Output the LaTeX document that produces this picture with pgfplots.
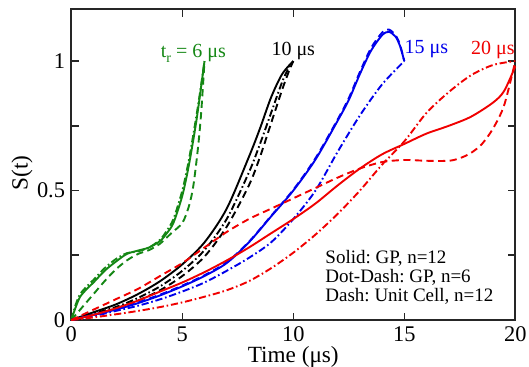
\documentclass[border=0pt]{standalone}
\usepackage{pgfplots}
\pgfplotsset{compat=1.18}
\usepackage{fontspec}
\setmainfont{Liberation Serif}
\frenchspacing

\definecolor{cgreen}{RGB}{20,135,20}
\definecolor{cblack}{RGB}{0,0,0}
\definecolor{cblue}{RGB}{0,0,235}
\definecolor{cred}{RGB}{240,0,0}

\tikzset{
  solidc/.style={line width=0.95pt},
  dashc/.style={line width=0.95pt, dash pattern=on 3.6pt off 2.2pt},
  dotdashc/.style={line width=0.95pt, dash pattern=on 3.6pt off 1.4pt on 0.8pt off 1.4pt},
}

\begin{document}
\begin{tikzpicture}
\begin{axis}[
  scale only axis,
  width=222pt, height=155.35pt,
  xmin=0, xmax=20, ymin=0, ymax=1.2,
  xtick={0,5,10,15,20},
  ytick={0,0.5,1},
  yticklabels={0,0.5,1},
  minor ytick={0.25,0.75},
  xtick pos=both, ytick pos=both,
  tick align=inside,
  major tick length=3.6pt,
  minor tick length=3.6pt,
  axis line style={black!85, line width=0.9pt},
  every tick/.style={black!85, line width=0.8pt},
  tick label style={font=\fontsize{11.2}{12}\selectfont},
  /pgf/number format/assume math mode=true,
  xticklabel style={yshift=0pt},
  yticklabel style={xshift=0.4pt},
  label style={font=\fontsize{11.6}{13}\selectfont},
  xlabel={Time (μs)},
  ylabel={S(t)},
  xlabel style={at={(axis description cs:0.5,-0.137)}, anchor=base},
  ylabel style={at={(axis description cs:-0.111,0.473)}, anchor=center},
  clip=false,
]

% ---- t_r = 6 us ----
\addplot[cgreen, solidc, smooth] coordinates {
(0,0) (0.2,0.05) (0.4,0.09) (0.7,0.12) (1,0.145) (1.5,0.19) (2,0.225)
(2.5,0.255) (3,0.268) (3.5,0.28) (4,0.305) (4.3,0.335) (4.6,0.375)
(5,0.48) (5.3,0.6) (5.6,0.75) (5.8,0.87) (6,1.0)};
\addplot[cgreen, dotdashc, smooth] coordinates {
(0,0) (0.2,0.06) (0.4,0.1) (0.7,0.13) (1,0.155) (1.5,0.2) (2,0.235)
(2.5,0.258) (3,0.265) (3.5,0.28) (4,0.31) (4.3,0.345) (4.6,0.39)
(5,0.5) (5.3,0.62) (5.6,0.77) (5.8,0.88) (6,1.0)};
\addplot[cgreen, dashc, smooth] coordinates {
(0,0) (0.5,0.05) (1,0.1) (1.5,0.15) (2,0.195) (2.5,0.23) (3,0.255)
(3.5,0.27) (4,0.295) (4.5,0.335) (5,0.375) (5.3,0.44) (5.5,0.52)
(5.7,0.66) (5.85,0.8) (6,1.0)};

% ---- t_r = 10 us ----
\addplot[cblack, solidc, smooth] coordinates {
(0,0) (1,0.03) (2,0.06) (3,0.1) (4,0.15) (5,0.215) (6,0.3) (7,0.43)
(8,0.63) (8.5,0.74) (9,0.86) (9.5,0.95) (10,1.0)};
\addplot[cblack, dotdashc, smooth] coordinates {
(0,0) (1,0.025) (2,0.05) (3,0.085) (4,0.13) (5,0.19) (6,0.27) (7,0.39)
(8,0.57) (8.5,0.68) (9,0.8) (9.5,0.92) (9.8,0.975) (10,1.0)};
\addplot[cblack, dashc, smooth] coordinates {
(0,0) (1,0.02) (2,0.045) (3,0.075) (4,0.115) (5,0.17) (6,0.245) (7,0.36)
(8,0.52) (8.5,0.63) (9,0.76) (9.5,0.89) (9.8,0.96) (10,1.0)};

% ---- t_r = 15 us ----
\addplot[cblue, solidc, smooth] coordinates {
(0,0) (1,0.02) (2,0.04) (3,0.065) (4,0.095) (5,0.13) (6,0.17) (7,0.22)
(8,0.3) (9,0.4) (10,0.5) (11,0.62) (12,0.77) (12.5,0.85) (13,0.95)
(13.5,1.04) (14,1.1) (14.3,1.113) (14.6,1.095) (14.8,1.06) (15,1.0)};
\addplot[cblue, dashc, smooth] coordinates {
(0,0) (1,0.02) (2,0.042) (3,0.068) (4,0.098) (5,0.133) (6,0.173) (7,0.223)
(8,0.302) (9,0.402) (10,0.503) (11,0.625) (12,0.775) (12.5,0.857) (13,0.958)
(13.5,1.05) (14,1.11) (14.3,1.122) (14.6,1.1) (14.8,1.065) (15,1.0)};
\addplot[cblue, dotdashc, smooth] coordinates {
(0,0) (1,0.015) (2,0.035) (3,0.055) (4,0.08) (5,0.11) (6,0.145) (7,0.19)
(8,0.24) (9,0.3) (10,0.39) (11,0.5) (12,0.65) (13,0.79) (14,0.91) (15,1.0)};

% ---- t_r = 20 us ----
\addplot[cred, solidc, smooth] coordinates {
(0,0) (1,0.02) (2,0.045) (3,0.075) (4,0.11) (5,0.145) (6,0.185) (7,0.23)
(8,0.28) (9,0.335) (10,0.39) (11,0.45) (12,0.52) (13,0.585) (14,0.64)
(15,0.68) (16,0.72) (17,0.75) (18,0.785) (19,0.84) (19.5,0.885) (20,0.98)};
\addplot[cred, dashc, smooth] coordinates {
(0,0) (1,0.04) (2,0.08) (3,0.12) (4,0.17) (5,0.22) (6,0.28) (7,0.34)
(8,0.39) (9,0.43) (10,0.47) (11,0.51) (12,0.55) (13,0.585) (14,0.61)
(15,0.618) (16,0.615) (17,0.615) (17.5,0.625) (18,0.645) (18.5,0.68)
(19,0.74) (19.5,0.83) (20,1.0)};
\addplot[cred, dotdashc, smooth] coordinates {
(0,0) (1,0.01) (2,0.022) (3,0.035) (4,0.05) (5,0.068) (6,0.09) (7,0.115)
(8,0.15) (9,0.2) (10,0.26) (11,0.33) (12,0.41) (13,0.5) (14,0.6)
(15,0.69) (16,0.8) (17,0.88) (18,0.945) (19,0.985) (20,1.0)};

% curve labels
\begin{scope}[font=\fontsize{10}{12}\selectfont, inner sep=0pt]
\node[cgreen, anchor=base] at (axis cs:5.5,1.012)
  {t\raisebox{-0.45ex}{\fontsize{7}{8}\selectfont r} = 6 μs};
\node[cblack, anchor=base] at (axis cs:10.0,1.023) {10 μs};
\node[cblue, anchor=base] at (axis cs:16.0,1.03) {15 μs};
\node[cred, anchor=base] at (axis cs:18.99,1.025) {20 μs};
\end{scope}
\begin{scope}[font=\fontsize{9.5}{11}\selectfont, inner sep=0pt]
\node[anchor=base west] at (axis cs:11.43,0.22) {Solid: GP, n=12};
\node[anchor=base west] at (axis cs:11.43,0.145) {Dot-Dash: GP, n=6};
\node[anchor=base west] at (axis cs:11.43,0.072) {Dash: Unit Cell, n=12};
\end{scope}

\end{axis}
\pgfresetboundingbox
\useasboundingbox (-35.65pt,-23pt) rectangle (228.85pt,160pt);
\end{tikzpicture}
\end{document}
